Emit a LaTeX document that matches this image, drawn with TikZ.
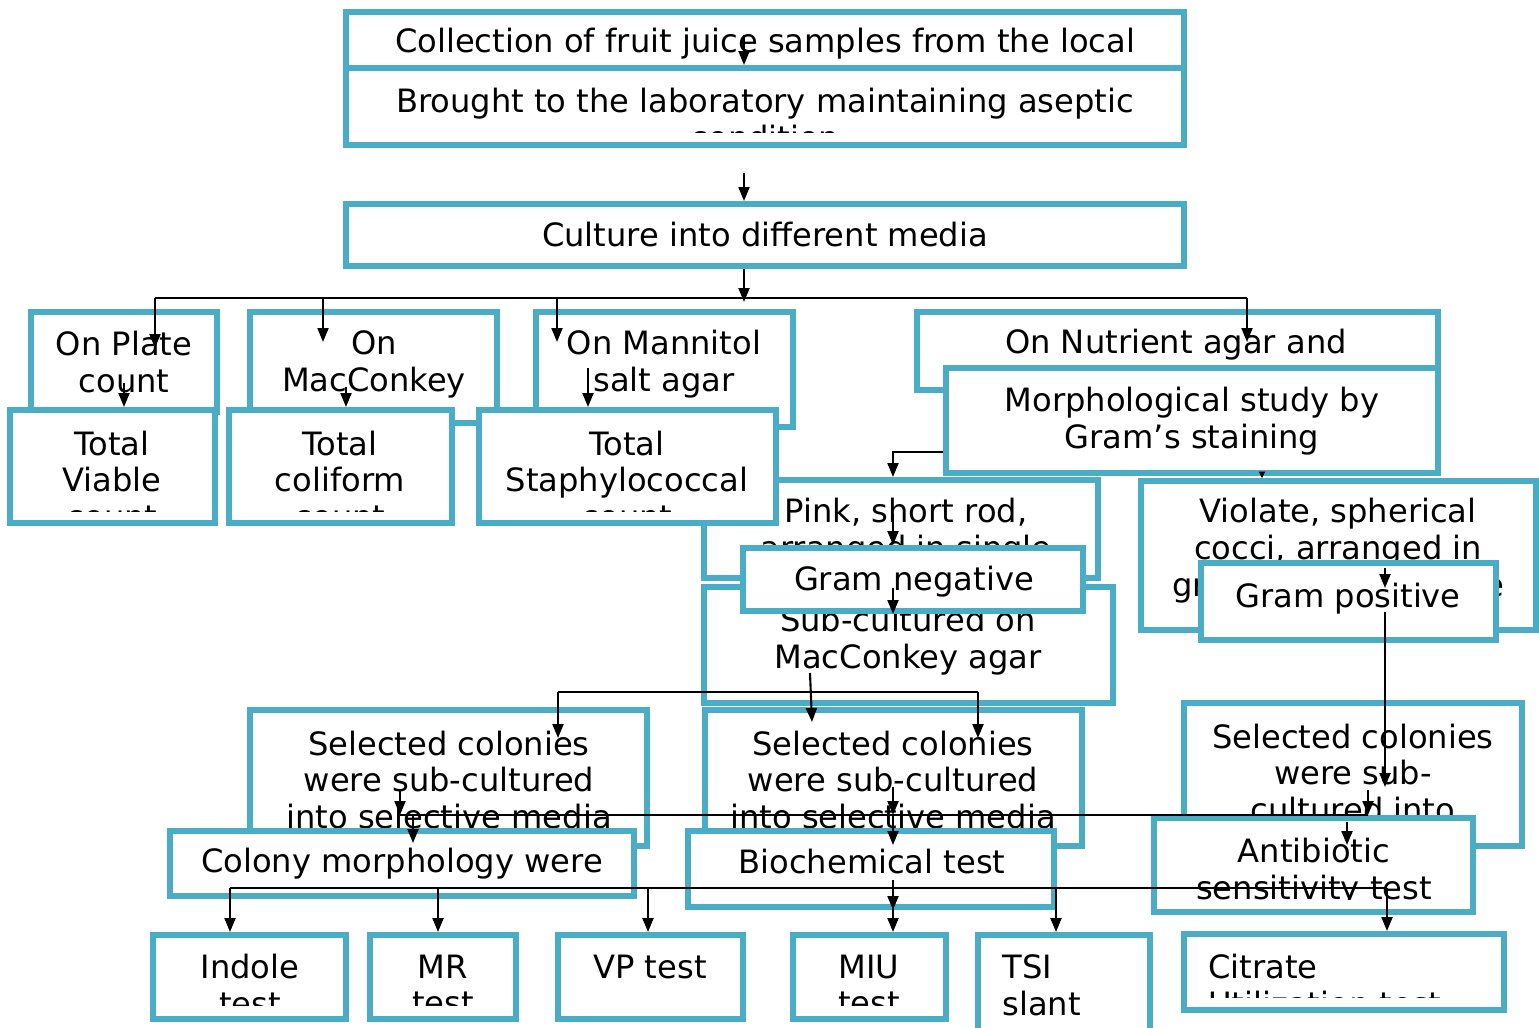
\documentclass[tikz,border=0pt]{standalone}
\usepackage{fontspec}
\setmainfont{DejaVu Sans}
\usetikzlibrary{arrows.meta,fit}
\definecolor{boxblue}{RGB}{75,172,198}

\begin{document}
\begin{tikzpicture}[
  x=0.02cm, y=-0.02cm,
  >={Triangle[length=0.28cm,width=0.22cm]},
  box/.style={draw=boxblue, line width=0.12cm, fill=white, inner sep=0pt},
  txt/.style={align=center, inner sep=0pt, font=\fontsize{18.3}{21}\selectfont},
  ltxt/.style={txt, align=left, anchor=west},
  arr/.style={->, line width=1.2pt},
  tick/.style={-{Triangle[length=0.13cm,width=0.13cm]}, line width=0.6pt},
  bus/.style={line width=1.2pt},
]
\useasboundingbox (0,0) rectangle (1539,1028);

% sample handling
\node[box, fit={(346,12) (1184,68)}] (collect) {};
\node[txt] (collect-t) at (765,44) {Collection of fruit juice samples from the local};
\node[box, fit={(346,68) (1184,145)}] (brought) {};
\begin{scope}
  \clip (352,74) rectangle (1178,132);
  \node[txt] (brought-t) at (765,119) {Brought to the laboratory maintaining aseptic\\condition};
\end{scope}
\node[box, fit={(346,204) (1184,266)}] (culture) {};
\node[txt] (culture-t) at (765,235) {Culture into different media};

% media
\node[box, fit={(31,312) (217,412)}] (plate) {};
\node[txt] (plate-t) at (124,362) {On Plate\\count};
\node[box, fit={(250,312) (497,423)}] (maccon) {};
\node[txt] (maccon-t) at (374,364) {On\\MacConkey};
\node[box, fit={(536,312) (793,427)}] (mannitol) {};
\node[txt] (mannitol-t) at (664,364) {On Mannitol\\salt agar};
\node[box, fit={(917,312) (1438,390)}] (nutrient) {};
\node[txt] (nutrient-t) at (1176,345) {On Nutrient agar and};
\node[box, fit={(946,368) (1438,473)}] (morph) {};
\node[txt] (morph-t) at (1192,421) {Morphological study by\\Gram’s staining};
\node[box, fit={(704,480) (1098,578)}] (pink) {};
\node[txt] (pink-t) at (906,532) {Pink, short rod,\\arranged in single};

% counts
\node[box, fit={(10,410) (215,523)}] (tvc) {};
\begin{scope}
  \clip (16,416) rectangle (209,511);
  \node[txt] (tvc-t) at (112,480) {Total\\Viable\\count};
\end{scope}
\node[box, fit={(229,410) (452,523)}] (coliform) {};
\begin{scope}
  \clip (235,416) rectangle (446,511);
  \node[txt] (coliform-t) at (340,480) {Total\\coliform\\count};
\end{scope}
\node[box, fit={(479,410) (776,523)}] (staph) {};
\begin{scope}
  \clip (485,416) rectangle (770,511);
  \node[txt] (staph-t) at (627,480) {Total\\Staphylococcal\\count};
\end{scope}

% gram staining
\node[box, fit={(1141,481) (1536,630)}] (violate) {};
\node[txt] (violate-t) at (1338,551) {Violate, spherical\\cocci, arranged in\\grapes like structure};
\node[box, fit={(1201,563) (1496,640)}] (grampos) {};
\node[txt] (grampos-t) at (1348,599) {Gram positive};
\node[box, fit={(704,587) (1113,703)}] (subcult) {};
\node[txt] (subcult-t) at (908,641) {Sub-cultured on\\MacConkey agar};
\node[box, fit={(743,548) (1083,611)}] (gramneg) {};
\node[txt] (gramneg-t) at (914,582) {Gram negative};

% selective media
\node[box, fit={(250,710) (647,846)}] (sel1) {};
\node[txt] (sel1-t) at (449,780) {Selected colonies\\were sub-cultured\\into selective media};
\node[box, fit={(705,710) (1082,846)}] (sel2) {};
\node[txt] (sel2-t) at (893,780) {Selected colonies\\were sub-cultured\\into selective media};
\node[box, fit={(1184,703) (1522,846)}] (sel3) {};
\node[txt] (sel3-t) at (1353,773) {Selected colonies\\were sub-\\cultured into};
\node[box, fit={(170,831) (634,896)}] (colony) {};
\node[txt] (colony-t) at (402,864) {Colony morphology were};
\node[box, fit={(688,831) (1054,907)}] (biochem) {};
\node[txt] (biochem-t) at (872,862) {Biochemical test};
\node[box, fit={(1154,818) (1473,912)}] (antibio) {};
\begin{scope}
  \clip (1160,824) rectangle (1467,899);
  \node[txt] (antibio-t) at (1314,872) {Antibiotic\\sensitivity test};
\end{scope}

% tests
\node[box, fit={(153,935) (346,1019)}] (indole) {};
\node[box, fit={(370,935) (516,1019)}] (mr) {};
\node[box, fit={(558,935) (743,1019)}] (vp) {};
\node[box, fit={(793,935) (946,1019)}] (miu) {};
\node[box, fit={(978,935) (1150,1045)}] (tsi) {};
\node[box, fit={(1184,934) (1504,1010)}] (citrate) {};
\begin{scope}
  \clip (150,940) rectangle (1510,1005);
  \node[txt] (indole-t) at (250,985) {Indole\\test};
  \node[txt] (mr-t) at (443,985) {MR\\test};
  \node[txt] (miu-t) at (869,985) {MIU\\test};
\end{scope}
\node[txt] (vp-t) at (650,967) {VP test};
\node[ltxt] (tsi-t) at (1002,985) {TSI\\slant};
\begin{scope}
  \clip (1190,940) rectangle (1498,997);
  \node[ltxt] (citrate-t) at (1208,985) {Citrate\\Utilization test};
\end{scope}

% connectors
\coordinate (c1) at (744,35);
\draw[arr] (c1) -- (c1 |- brought.north);
\coordinate (c2) at (744,173);
\draw[arr] (c2) -- (c2 |- culture.north);
\coordinate (hub) at (744,302);
\draw[arr] (culture.south -| hub) -- (hub);
\coordinate (busL) at (155,298);
\coordinate (busR) at (1247,298);
\draw[bus] (busL) -- (busR);
\foreach \n/\x/\y in {a/155/348, b/323/342, c/557/342, d/1247/342}{
  \coordinate (d\n) at (\x,\y);
  \draw[arr] (d\n |- busL) -- (d\n);
}
\coordinate (p1) at (124,383);
\draw[arr] (p1) -- (p1 |- tvc.north);
\coordinate (p2) at (346,387);
\draw[arr] (p2) -- (p2 |- coliform.north);
\coordinate (p3) at (588,368);
\draw[arr] (p3) -- (p3 |- staph.north);
\coordinate (p4) at (893,452);
\draw[arr] (morph.west |- p4) -| (p4 |- pink.north);
\coordinate (p5) at (1262,477);
\draw[tick] (p5) -- (p5 |- violate.north);
\coordinate (p6) at (893,513);
\draw[arr] (p6) -- (p6 |- gramneg.north);
\coordinate (p7) at (893,588);
\draw[arr] (p7) -- (p7 |- gramneg.south);
\coordinate (p8) at (1385,568);
\coordinate (p8b) at (1385,588);
\draw[arr] (p8) -- (p8b);
\coordinate (p9) at (1385,612);
\coordinate (p9b) at (1385,787);
\draw[arr] (p9) -- (p9b);
\coordinate (p10) at (810,673);
\coordinate (p10b) at (812,722);
\draw[arr] (p10) -- (p10b);

\coordinate (brL) at (558,692);
\coordinate (brR) at (978,692);
\draw[bus] (brL) -- (brR);
\coordinate (s1) at (558,738);
\coordinate (s2) at (978,738);
\draw[arr] (brL) -- (s1);
\draw[arr] (brR) -- (s2);

\coordinate (mbL) at (400,815);
\coordinate (mbR) at (1368,815);
\draw[bus] (mbL) -- (mbR);
\coordinate (m1) at (400,790);
\coordinate (m2) at (893,787);
\coordinate (m3) at (1368,790);
\draw[arr] (m1) -- (mbL);
\draw[arr] (m2) -- (m2 |- mbL);
\draw[arr] (m3) -- (mbR);
\coordinate (n1) at (413,843);
\coordinate (n2) at (893,845);
\coordinate (n3a) at (1347,822);
\coordinate (n3) at (1347,845);
\draw[arr] (n1 |- mbL) -- (n1);
\draw[arr] (n2 |- mbL) -- (n2);
\draw[arr] (n3a) -- (n3);

\coordinate (q1) at (893,880);
\coordinate (q2) at (893,910);
\draw[arr] (q1) -- (q2);
\coordinate (lbL) at (230,888);
\coordinate (lbR) at (1387,888);
\draw[bus] (lbL) -- (lbR);
\foreach \n/\x in {indole/230, mr/438, vp/648, miu/893, tsi/1056, citrate/1387}{
  \coordinate (t-\n) at (\x,888);
  \draw[arr] (t-\n) -- (t-\n |- \n.north);
}
\end{tikzpicture}
\end{document}
